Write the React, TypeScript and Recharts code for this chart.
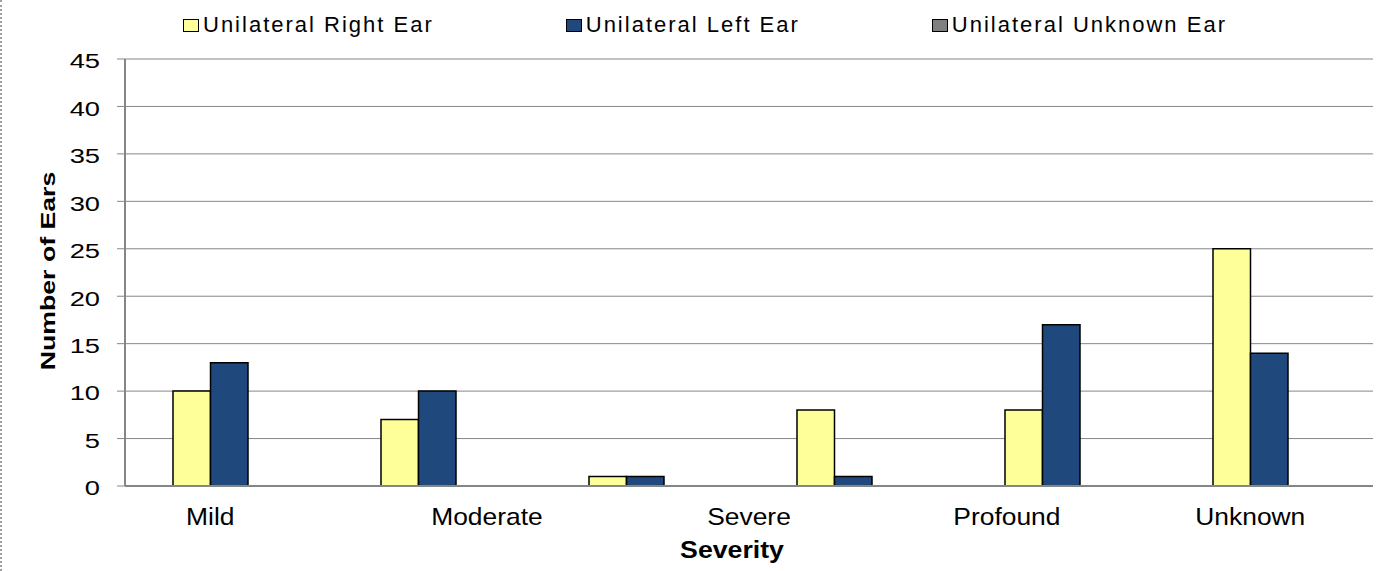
import React from 'react';
import { BarChart, Bar, XAxis, YAxis, CartesianGrid, Legend } from 'recharts';

// ---- data ----
const groups = ['G1', 'G2', 'G3', 'G4', 'G5', 'G6'];
const rightEar = [10, 7, 1, 8, 8, 25];
const leftEar = [13, 10, 1, 1, 17, 14];
const unknownEar = [0, 0, 0, 0, 0, 0];
const yTicks = [0, 5, 10, 15, 20, 25, 30, 35, 40, 45];
const severityLabels = ['Mild', 'Moderate', 'Severe', 'Profound', 'Unknown'];
const severityLabelAt = [0.41, 1.74, 3.0, 4.24, 5.41];
const seriesNames = ['Unilateral Right Ear', 'Unilateral Left Ear', 'Unilateral Unknown Ear'];
const seriesColors = ['#FFFF99', '#1F497D', '#808080'];

const data = groups.map((g, i) => ({
  group: g,
  right: rightEar[i],
  left: leftEar[i],
  unknown: unknownEar[i],
}));

const FONT = '"Liberation Sans", Arial, Helvetica, sans-serif';
const GRID = '#868686';

const YTick = (props: any) => {
  const { x, y, payload } = props;
  return (
    <text
      transform={`translate(${x},${y + 9.3}) scale(1.3,1)`}
      textAnchor="end"
      fontSize={21}
      fontFamily={FONT}
      fill="#000"
    >
      {payload.value}
    </text>
  );
};

const XTick = (props: any) => {
  const { x, y, payload } = props;
  const idx = severityLabelAt.indexOf(payload.value);
  return (
    <text
      transform={`translate(${x},${y + 39}) scale(1.1,1)`}
      textAnchor="middle"
      fontSize={24}
      fontFamily={FONT}
      fill="#000"
    >
      {severityLabels[idx]}
    </text>
  );
};

const XTitle = (props: any) => {
  const vb = props.viewBox;
  return (
    <text
      transform={`translate(${vb.x + vb.width / 2 - 17},${vb.y + 72}) scale(1.16,1)`}
      textAnchor="middle"
      fontSize={23}
      fontWeight="bold"
      fontFamily={FONT}
      fill="#000"
    >
      Severity
    </text>
  );
};

const YTitle = (props: any) => {
  const vb = props.viewBox;
  return (
    <text
      transform={`translate(${vb.x + 55},${vb.y + vb.height / 2 - 1.5}) rotate(-90) scale(1.27,1)`}
      textAnchor="middle"
      fontSize={21}
      fontWeight="bold"
      fontFamily={FONT}
      fill="#000"
    >
      Number of Ears
    </text>
  );
};

const LegendContent = () => (
  <div
    style={{
      height: 59,
      boxSizing: 'border-box',
      paddingTop: 12,
      paddingLeft: 183,
      display: 'flex',
      alignItems: 'flex-start',
    }}
  >
    {seriesNames.map((name, i) => (
      <div
        key={name}
        style={{
          display: 'flex',
          alignItems: 'center',
          height: 26,
          marginRight: i < seriesNames.length - 1 ? 132 : 0,
        }}
      >
        <span
          style={{
            display: 'inline-block',
            width: 14,
            height: 11,
            background: seriesColors[i],
            border: '1px solid #000',
            marginRight: 4,
          }}
        />
        <span
          style={{
            fontSize: 22,
            letterSpacing: 2,
            fontFamily: FONT,
            lineHeight: '26px',
            color: '#000',
            whiteSpace: 'nowrap',
          }}
        >
          {name}
        </span>
      </div>
    ))}
  </div>
);

export default function App() {
  return (
    <div style={{ position: 'absolute', left: 0, top: 0, width: 1384, height: 571, background: '#fff' }}>
      <div
        style={{
          position: 'absolute',
          left: 0,
          top: 0,
          width: 0,
          height: 571,
          borderLeft: '2px dotted #a0a0a0',
        }}
      />
      <BarChart
        width={1384}
        height={571}
        data={data}
        margin={{ top: 0, right: 11, bottom: 0, left: 0 }}
        barGap={0}
      >
        <CartesianGrid vertical={false} stroke={GRID} strokeWidth={1} />
        <XAxis dataKey="group" hide height={0} />
        <XAxis
          xAxisId="lbl"
          dataKey="labelSlot"
          type="number"
          scale="linear"
          domain={[0, groups.length]}
          allowDataOverflow
          ticks={severityLabelAt}
          interval={0}
          height={85}
          tickLine={false}
          tickSize={0}
          tickMargin={0}
          axisLine={{ stroke: GRID, strokeWidth: 2 }}
          tick={<XTick />}
          label={XTitle}
        />
        <YAxis
          width={125}
          domain={[0, 45]}
          ticks={yTicks}
          interval={0}
          tickSize={8}
          tickMargin={17}
          tickLine={{ stroke: GRID, strokeWidth: 1 }}
          axisLine={{ stroke: GRID, strokeWidth: 2 }}
          tick={<YTick />}
          label={YTitle}
        />
        <Legend verticalAlign="top" align="left" content={<LegendContent />} />
        <Bar
          dataKey="right"
          name={seriesNames[0]}
          fill={seriesColors[0]}
          stroke="#000"
          strokeWidth={1.5}
          barSize={37.5}
          isAnimationActive={false}
        />
        <Bar
          dataKey="left"
          name={seriesNames[1]}
          fill={seriesColors[1]}
          stroke="#000"
          strokeWidth={1.5}
          barSize={37.5}
          isAnimationActive={false}
        />
        <Bar
          dataKey="unknown"
          name={seriesNames[2]}
          fill={seriesColors[2]}
          stroke="#000"
          strokeWidth={1.5}
          barSize={37.5}
          isAnimationActive={false}
        />
      </BarChart>
    </div>
  );
}
